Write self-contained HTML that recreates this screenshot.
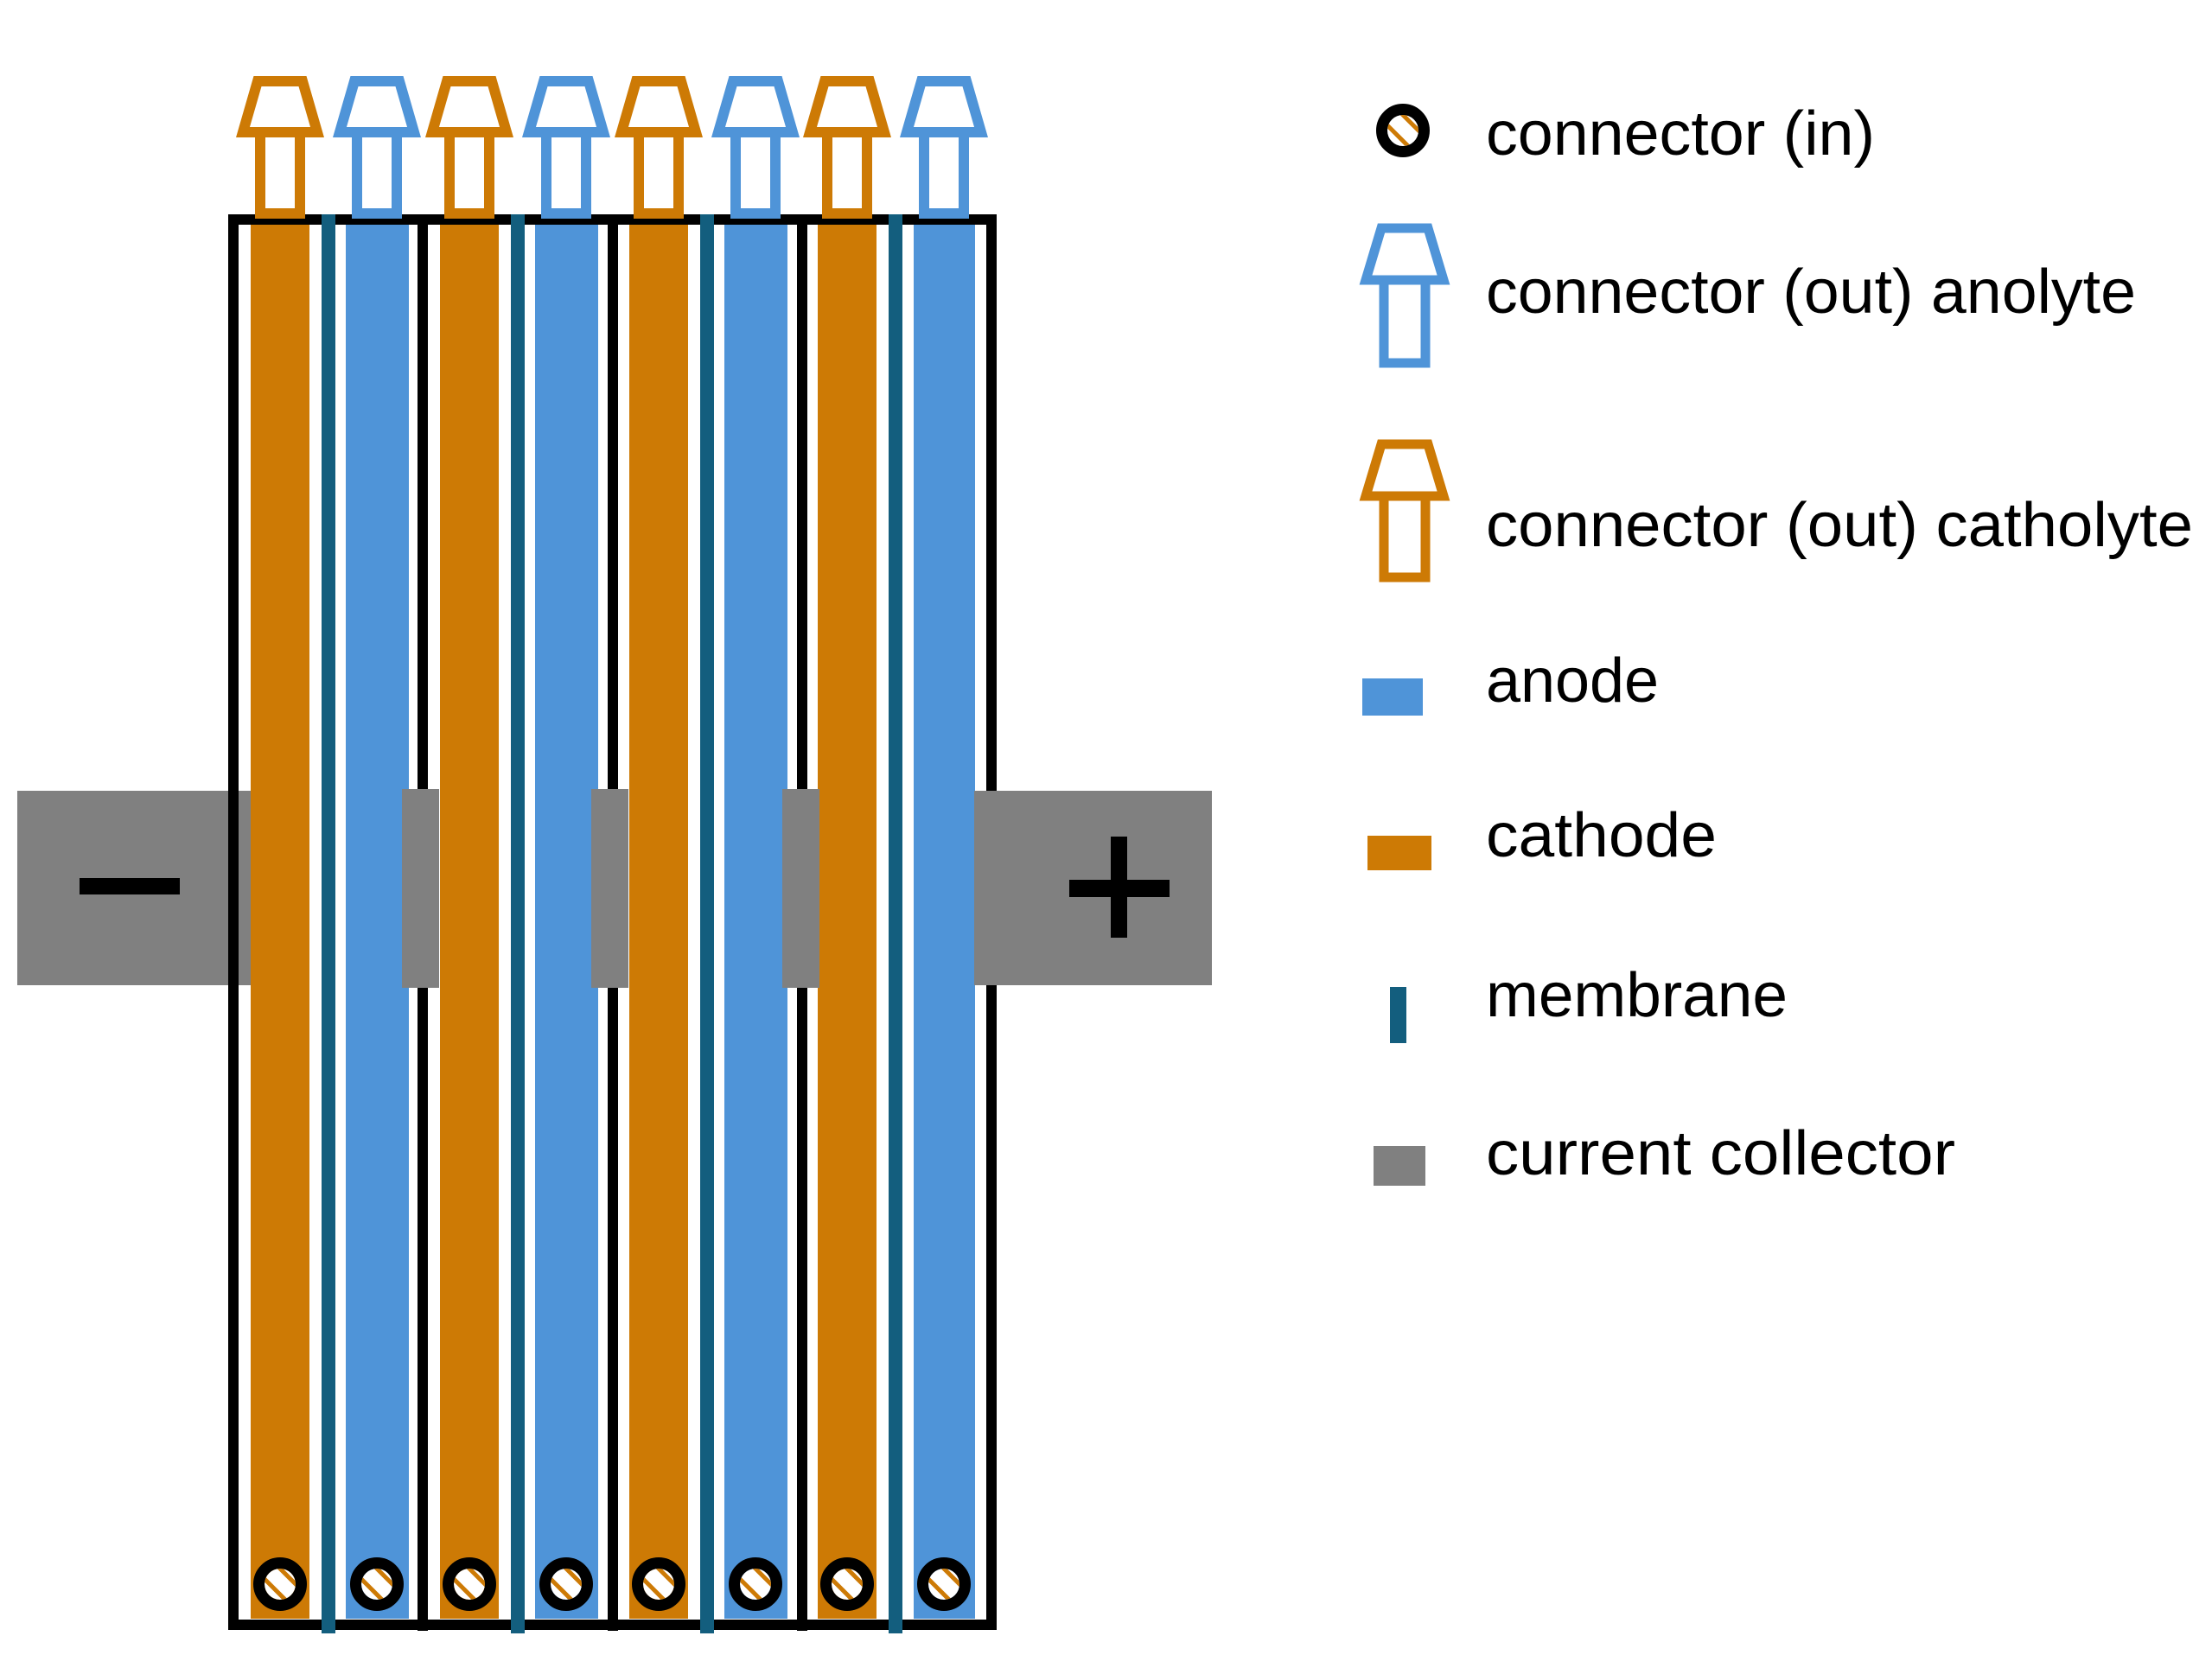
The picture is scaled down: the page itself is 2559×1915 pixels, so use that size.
<!DOCTYPE html>
<html><head><meta charset="utf-8"><style>html,body{margin:0;padding:0;background:#fff}svg{display:block}</style></head>
<body>
<svg width="2559" height="1915" viewBox="0 0 2559 1915" xmlns="http://www.w3.org/2000/svg">
<defs>
<clipPath id="ci"><circle cx="0" cy="0" r="18"/></clipPath>
<g id="cin">
  <circle cx="0" cy="0" r="18" fill="#fff"/>
  <g clip-path="url(#ci)" stroke="#CD7A05" stroke-width="5">
    <line x1="-30" y1="-18" x2="10" y2="22"/>
    <line x1="-10" y1="-28" x2="30" y2="12"/>
  </g>
  <circle cx="0" cy="0" r="24.5" fill="none" stroke="#000" stroke-width="13"/>
</g>
</defs>
<!-- left collector under the box -->
<rect x="20" y="915" width="270" height="225" fill="#808080"/>
<rect x="92" y="1016" width="116" height="19" fill="#000"/>
<!-- columns -->
<g id="cells">
</g>
<script>
</script>
<!-- Cell 0..3: base 264, 483.3, 702.6, 921.9 -->
<g fill="#CD7A05">
<rect x="290" y="260" width="68" height="1613"/>
<rect x="509" y="260" width="68" height="1613"/>
<rect x="728" y="260" width="68" height="1613"/>
<rect x="946" y="260" width="68" height="1613"/>
</g>
<g fill="#4F94D8">
<rect x="400" y="260" width="73" height="1613"/>
<rect x="619" y="260" width="73" height="1613"/>
<rect x="838" y="260" width="73" height="1613"/>
<rect x="1057" y="260" width="71" height="1613"/>
</g>
<!-- box & dividers -->
<rect x="270" y="254" width="877" height="1626" fill="none" stroke="#000" stroke-width="12"/>
<rect x="483" y="248" width="12" height="1639" fill="#000"/>
<rect x="703" y="248" width="12" height="1639" fill="#000"/>
<rect x="922" y="248" width="12" height="1639" fill="#000"/>
<!-- membranes -->
<g fill="#135E7E">
<rect x="372" y="248" width="16" height="1642"/>
<rect x="591" y="248" width="16" height="1642"/>
<rect x="810" y="248" width="16" height="1642"/>
<rect x="1028" y="248" width="16" height="1642"/>
</g>
<!-- inner collectors -->
<g fill="#808080">
<rect x="465" y="913" width="43" height="230"/>
<rect x="684" y="913" width="43" height="230"/>
<rect x="905" y="913" width="43" height="230"/>
<rect x="1127" y="915" width="275" height="225"/>
</g>
<rect x="1237" y="1018" width="116" height="20" fill="#000"/>
<rect x="1285" y="968" width="19" height="117" fill="#000"/>
<!-- outlet connectors -->
<g fill="#fff" stroke-width="12">
<g stroke="#CD7A05">
<polygon points="298,94 350,94 367,153 281,153"/><rect x="301" y="153" width="46" height="94"/>
<polygon points="517,94 569,94 586,153 500,153"/><rect x="520" y="153" width="46" height="94"/>
<polygon points="736,94 788,94 805,153 719,153"/><rect x="739" y="153" width="46" height="94"/>
<polygon points="954,94 1006,94 1023,153 937,153"/><rect x="957" y="153" width="46" height="94"/>
</g>
<g stroke="#4F94D8">
<polygon points="410,94 462,94 479,153 393,153"/><rect x="413" y="153" width="46" height="94"/>
<polygon points="629,94 681,94 698,153 612,153"/><rect x="632" y="153" width="46" height="94"/>
<polygon points="848,94 900,94 917,153 831,153"/><rect x="851" y="153" width="46" height="94"/>
<polygon points="1066,94 1118,94 1135,153 1049,153"/><rect x="1069" y="153" width="46" height="94"/>
</g>
</g>
<!-- inlet connectors -->
<use href="#cin" x="324" y="1833"/>
<use href="#cin" x="436" y="1833"/>
<use href="#cin" x="543" y="1833"/>
<use href="#cin" x="655" y="1833"/>
<use href="#cin" x="762" y="1833"/>
<use href="#cin" x="874" y="1833"/>
<use href="#cin" x="980" y="1833"/>
<use href="#cin" x="1092" y="1833"/>
<!-- legend -->
<use href="#cin" x="1623" y="151"/>
<g fill="#fff" stroke-width="11">
<g stroke="#4F94D8"><polygon points="1598,264 1652,264 1670,324 1580,324"/><rect x="1601" y="324" width="48" height="96"/></g>
<g stroke="#CD7A05"><polygon points="1598,514 1652,514 1670,574 1580,574"/><rect x="1601" y="574" width="48" height="94"/></g>
</g>
<rect x="1576" y="785" width="70" height="43" fill="#4F94D8"/>
<rect x="1582" y="967" width="74" height="40" fill="#CD7A05"/>
<rect x="1608" y="1142" width="19" height="65" fill="#135E7E"/>
<rect x="1589" y="1326" width="60" height="46" fill="#808080"/>
<g font-family="'Liberation Sans', sans-serif" font-size="72" fill="#000">
<text x="1719" y="179" textLength="450" lengthAdjust="spacingAndGlyphs">connector (in)</text>
<text x="1719" y="362" textLength="752" lengthAdjust="spacingAndGlyphs">connector (out) anolyte</text>
<text x="1719" y="632" textLength="818" lengthAdjust="spacingAndGlyphs">connector (out) catholyte</text>
<text x="1719" y="812" textLength="200" lengthAdjust="spacingAndGlyphs">anode</text>
<text x="1719" y="991" textLength="267" lengthAdjust="spacingAndGlyphs">cathode</text>
<text x="1719" y="1176" textLength="349" lengthAdjust="spacingAndGlyphs">membrane</text>
<text x="1719" y="1359" textLength="543" lengthAdjust="spacingAndGlyphs">current collector</text>
</g>
</svg>
</body></html>
